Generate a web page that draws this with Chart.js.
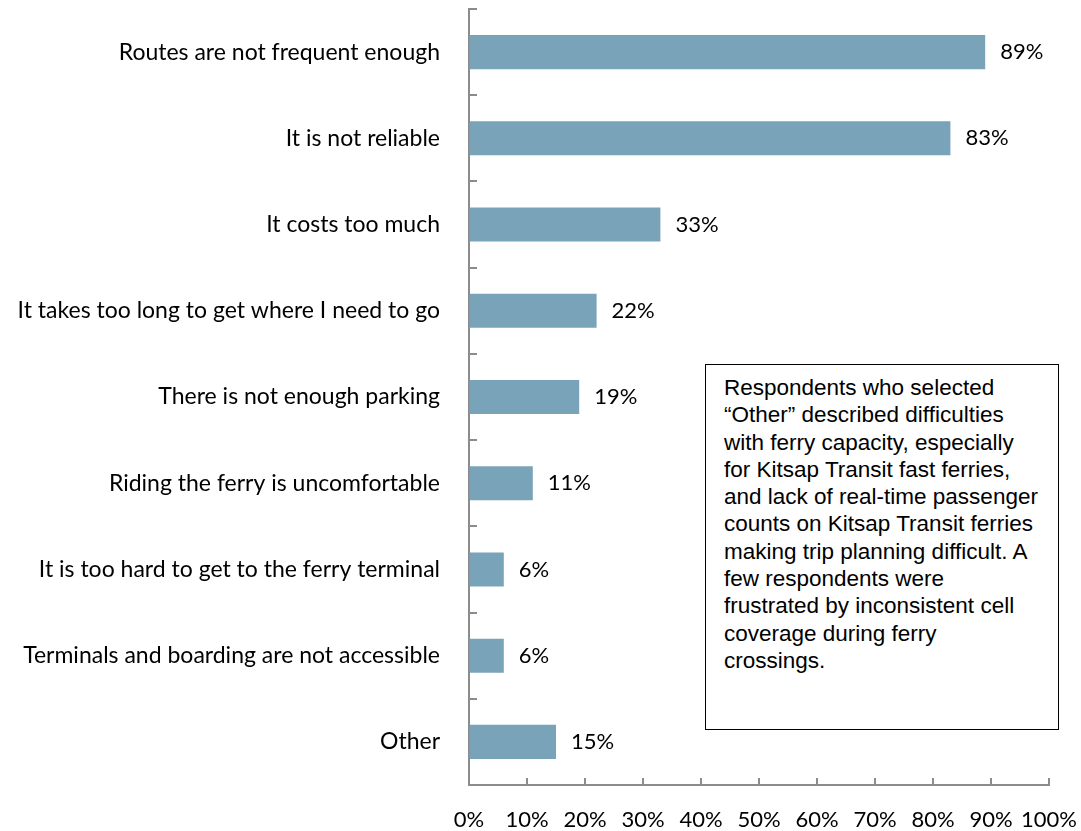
<!DOCTYPE html>
<html>
<head>
<meta charset="utf-8">
<script src="https://cdn.jsdelivr.net/npm/chart.js@4.4.1/dist/chart.umd.min.js"></script>
<style>
  body { margin: 0; background: #fff; }
  #wrap { position: relative; width: 1081px; height: 831px; }
  #note {
    position: absolute; left: 705px; top: 364px; width: 316px; height: 346px;
    border: 1.5px solid #000; padding: 9px 18px 9px 18px;
    font-family: "Liberation Sans", Arial, sans-serif; font-size: 22.5px; line-height: 27.3px;
    color: #000; background: #fff; white-space: nowrap;
  }
</style>
</head>
<body>
<div id="wrap">
  <canvas id="c" width="1081" height="831"></canvas>
  <div id="note">Respondents who selected<br>“Other” described difficulties<br>with ferry capacity, especially<br>for Kitsap Transit fast ferries,<br>and lack of real-time passenger<br>counts on Kitsap Transit ferries<br>making trip planning difficult. A<br>few respondents were<br>frustrated by inconsistent cell<br>coverage during ferry<br>crossings.</div>
</div>
<script>
const categories = [
  'Routes are not frequent enough',
  'It is not reliable',
  'It costs too much',
  'It takes too long to get where I need to go',
  'There is not enough parking',
  'Riding the ferry is uncomfortable',
  'It is too hard to get to the ferry terminal',
  'Terminals and boarding are not accessible',
  'Other'
];
const percents = [89, 83, 33, 22, 19, 11, 6, 6, 15];
const axisMax = 100;
const axisStep = 10;

const fontFamily = 'Lato, "Open Sans", sans-serif';
const axisGray = '#8c8c8c';

// value labels to the right of each bar
const valueLabels = {
  id: 'valueLabels',
  afterDatasetsDraw(chart) {
    const ctx = chart.ctx;
    const meta = chart.getDatasetMeta(0);
    ctx.save();
    ctx.font = '22px ' + fontFamily;
    ctx.fillStyle = '#000';
    ctx.textAlign = 'left';
    ctx.textBaseline = 'middle';
    meta.data.forEach((bar, i) => {
      ctx.fillText(percents[i] + '%', bar.x + 15, bar.y);
    });
    ctx.restore();
  }
};

// short tick marks pointing into the plot, like the original
const innerTicks = {
  id: 'innerTicks',
  afterDraw(chart) {
    const ctx = chart.ctx;
    const x = chart.scales.x, y = chart.scales.y;
    ctx.save();
    ctx.strokeStyle = axisGray;
    ctx.lineWidth = 2;
    ctx.beginPath();
    x.ticks.forEach((t, i) => {
      const px = Math.round(x.getPixelForTick(i));
      ctx.moveTo(px, y.bottom);
      ctx.lineTo(px, y.bottom - 7);
    });
    const n = categories.length;
    for (let i = 0; i <= n; i++) {
      const py = Math.round(y.top + i * (y.bottom - y.top) / n);
      ctx.moveTo(x.left, py);
      ctx.lineTo(x.left + 8, py);
    }
    ctx.stroke();
    ctx.restore();
  }
};

function noPad(s) {
  s.paddingLeft = s.paddingRight = s.paddingTop = s.paddingBottom = 0;
}

new Chart(document.getElementById('c'), {
  type: 'bar',
  data: {
    labels: categories,
    datasets: [{
      data: percents,
      backgroundColor: '#79a3b8',
      categoryPercentage: 1,
      barPercentage: 0.395
    }]
  },
  options: {
    indexAxis: 'y',
    responsive: false,
    animation: false,
    layout: { padding: { top: 9, right: 32, left: 0, bottom: 0 } },
    plugins: { legend: { display: false }, tooltip: { enabled: false } },
    scales: {
      x: {
        min: 0, max: axisMax,
        afterFit: s => { s.height = 46; noPad(s); },
        grid: { drawOnChartArea: false, drawTicks: false },
        border: { color: axisGray, width: 2 },
        ticks: {
          stepSize: axisStep, padding: 22, color: '#000', font: { family: fontFamily, size: 22 },
          maxRotation: 0, autoSkip: false,
          callback: v => v + '%'
        }
      },
      y: {
        afterFit: s => { s.width = 469; noPad(s); },
        grid: { drawOnChartArea: false, drawTicks: false },
        border: { color: axisGray, width: 2 },
        ticks: { padding: 29, color: '#000', font: { family: fontFamily, size: 23 }, autoSkip: false }
      }
    }
  },
  plugins: [valueLabels, innerTicks]
});
</script>
</body>
</html>
